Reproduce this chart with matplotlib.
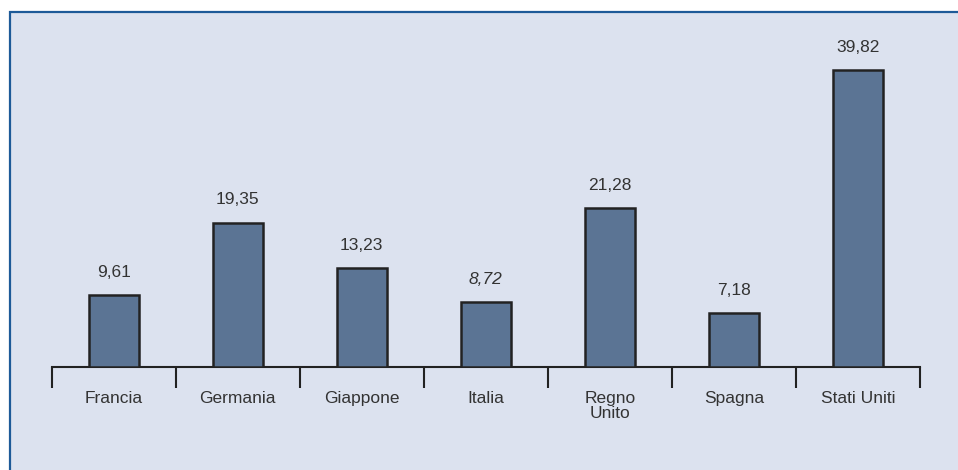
import matplotlib
matplotlib.use("Agg")
from matplotlib import pyplot as plt
from matplotlib.patches import Rectangle
import numpy as np

paesi = ["Francia", "Germania", "Giappone", "Italia", "Regno\nUnito", "Spagna", "Stati Uniti"]
valori = [9.61, 19.35, 13.23, 8.72, 21.28, 7.18, 39.82]
etichette = ["9,61", "19,35", "13,23", "8,72", "21,28", "7,18", "39,82"]
corsivo = [False, False, False, True, False, False, False]

plt.rcParams['font.family'] = ['Liberation Sans', 'DejaVu Sans']

W, H = 958, 470
fig = plt.figure(figsize=(W / 100, H / 100), dpi=100)
fig.patch.set_facecolor("white")

# pannello di sfondo con bordo blu
fig.patches.append(Rectangle((10 / W, -0.01), 1, 1.01 - 12 / H, transform=fig.transFigure,
                             facecolor="#dce2ef", edgecolor="#1d5a98", linewidth=1.6,
                             zorder=-10))

ax = fig.add_axes([51.7 / W, 103 / H, (920 - 51.7) / W, (367 - 14) / H])
ax.set_facecolor("none")

x = np.arange(len(paesi))
ax.bar(x, valori, width=0.405, color="#5b7494", edgecolor="#222222", linewidth=1.8, zorder=3)

for xi, v, t, it in zip(x, valori, etichette, corsivo):
    ax.annotate(t, (xi, v), xytext=(0, 11), textcoords="offset points",
                ha="center", va="bottom", fontsize=12.5, color="#333333",
                style="italic" if it else "normal")

ax.set_xlim(-0.5, len(paesi) - 0.5)
ax.set_ylim(0, 353 / 7.46)

for s in ["top", "right", "left"]:
    ax.spines[s].set_visible(False)
ax.spines["bottom"].set_linewidth(1.5)
ax.spines["bottom"].set_color("#222222")
ax.set_yticks([])

ax.set_xticks(x)
ax.set_xticklabels(paesi, fontsize=12.5, color="#333333", linespacing=1.05)
ax.tick_params(axis="x", which="major", length=0, pad=17)
ax.set_xticks(np.arange(-0.5, len(paesi)), minor=True)
ax.tick_params(axis="x", which="minor", direction="out", length=15, width=1.5, color="#222222")

fig.savefig("out.png", dpi=100)
